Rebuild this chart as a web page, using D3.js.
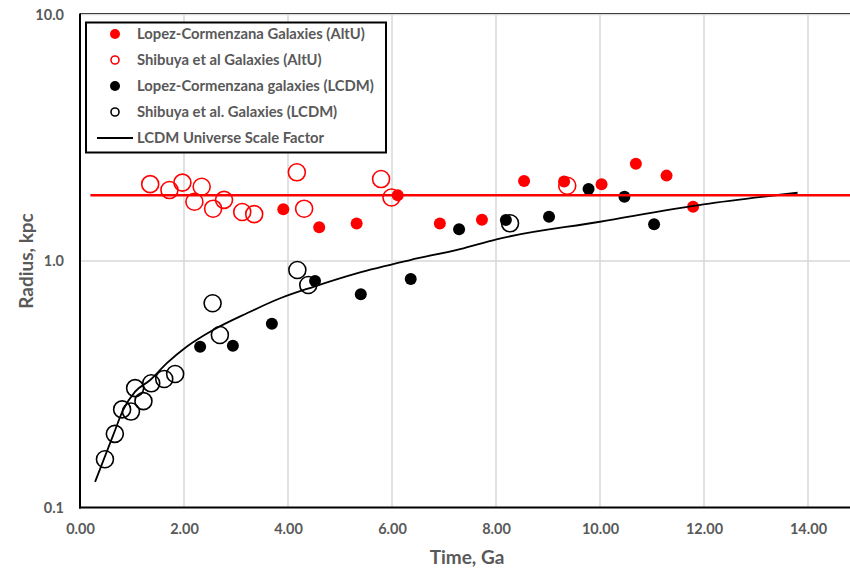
<!DOCTYPE html>
<html><head><meta charset="utf-8">
<script src="https://cdn.jsdelivr.net/npm/d3@7"></script>
<style>
html,body{margin:0;padding:0;background:#fff;}
svg{display:block;font-family:Lato,"Open Sans",sans-serif;font-weight:bold;}
</style></head>
<body><svg id="chart" width="850" height="569"></svg>
<script>
// ---- data ----
const xTicks = [0, 2, 4, 6, 8, 10, 12, 14];
const yTicks = [0.1, 1, 10];

const lopezAltT = [3.91, 4.60, 5.32, 6.11, 6.92, 7.73, 8.54, 9.31, 10.03, 10.69, 11.28, 11.79];
const lopezAltR = [1.62, 1.37, 1.42, 1.85, 1.42, 1.47, 2.11, 2.10, 2.05, 2.48, 2.22, 1.66];

const shibAltT = [1.35, 1.72, 1.97, 2.34, 2.20, 2.56, 2.77, 3.12, 3.35, 4.17, 4.31, 5.79, 5.99, 9.37];
const shibAltR = [2.05, 1.94, 2.08, 2.00, 1.74, 1.63, 1.77, 1.58, 1.55, 2.29, 1.63, 2.15, 1.81, 2.02];

const lopezLcdmT = [2.31, 2.94, 3.69, 4.52, 5.40, 6.36, 7.29, 8.19, 9.02, 9.78, 10.47, 11.04];
const lopezLcdmR = [0.449, 0.453, 0.557, 0.829, 0.733, 0.845, 1.345, 1.467, 1.512, 1.959, 1.823, 1.409];

const shibLcdmT = [0.48, 0.67, 0.81, 0.98, 1.06, 1.22, 1.37, 1.62, 1.83, 2.55, 2.69, 4.18, 4.39, 8.27];
const shibLcdmR = [0.157, 0.199, 0.250, 0.245, 0.305, 0.270, 0.319, 0.332, 0.348, 0.674, 0.501, 0.919, 0.799, 1.422];

const scaleT = [0.29, 0.64, 0.83, 1.06, 1.35, 1.67, 2.05, 2.56, 3.21, 3.85, 4.49, 5.32, 6.35, 7.31, 8.01, 10.0, 11.99, 13.8];
const scaleR = [0.127, 0.197, 0.249, 0.295, 0.329, 0.385, 0.449, 0.525, 0.614, 0.706, 0.786, 0.891, 1.009, 1.118, 1.225, 1.443, 1.698, 1.892];

const altLineT = [0.2, 16];
const altLineR = [1.85, 1.85];

const legendLabels = [
  "Lopez-Cormenzana Galaxies (AltU)",
  "Shibuya et al Galaxies (AltU)",
  "Lopez-Cormenzana galaxies (LCDM)",
  "Shibuya et al. Galaxies (LCDM)",
  "LCDM Universe Scale Factor"
];

// ---- layout ----
const svg = d3.select("#chart");
const L = 80, R = 912, T = 14.5, B = 507.5;
const x = d3.scaleLinear().domain([0, 16]).range([L, R]);
const y = d3.scaleLog().domain([0.1, 10]).range([B, T]);
const grey = "#595959";

svg.append("defs").append("clipPath").attr("id","clip")
  .append("rect").attr("x", L).attr("y", 0).attr("width", 850 - L).attr("height", B + 2);

// gridlines
const grid = svg.append("g");
grid.selectAll("line.v").data(xTicks.filter(d => d > 0)).join("line")
  .attr("x1", d => x(d)).attr("x2", d => x(d)).attr("y1", T).attr("y2", B)
  .attr("stroke", "#d9d9d9").attr("stroke-width", 1.5);
grid.selectAll("line.h").data(yTicks.filter(d => d > 0.1)).join("line")
  .attr("x1", L).attr("x2", 850).attr("y1", d => y(d)).attr("y2", d => y(d))
  .attr("stroke", "#d9d9d9").attr("stroke-width", 1.5);
// top border
svg.append("line").attr("x1", L).attr("x2", 850).attr("y1", T - 1).attr("y2", T - 1)
  .attr("stroke", "#404040").attr("stroke-width", 1);

// axes
const xAxis = d3.axisBottom(x).tickValues(xTicks).tickFormat(d3.format(".2f")).tickSize(0).tickPadding(16);
const gx = svg.append("g").attr("transform", `translate(0,${B})`).call(xAxis);
gx.select(".domain").remove();
gx.selectAll("text").attr("fill", grey).style("font-size", "14.5px").style("font-family", "Lato").style("font-weight", "bold");

const yAxis = d3.axisLeft(y).tickValues(yTicks).tickFormat(d3.format(".1f")).tickSize(0).tickPadding(16);
const gy = svg.append("g").attr("transform", `translate(${L},0)`).call(yAxis);
gy.select(".domain").remove();
gy.selectAll("text").attr("fill", grey).style("font-size", "14.5px").style("font-family", "Lato").style("font-weight", "bold");

svg.append("line").attr("x1", L).attr("x2", L).attr("y1", T - 1).attr("y2", B + 1)
  .attr("stroke", "#000").attr("stroke-width", 2);
svg.append("line").attr("x1", L - 1).attr("x2", 850).attr("y1", B).attr("y2", B)
  .attr("stroke", "#000").attr("stroke-width", 2);

// axis titles
svg.append("text").attr("x", 467).attr("y", 564).attr("text-anchor", "middle")
  .attr("fill", grey).style("font-size", "19px").text("Time, Ga");
svg.append("text").attr("transform", `translate(33,${y(1)}) rotate(-90)`).attr("text-anchor", "middle")
  .attr("fill", grey).style("font-size", "19px").text("Radius, kpc");

// plot
const plot = svg.append("g").attr("clip-path", "url(#clip)");
const pts = (ts, rs) => ts.map((t, i) => [t, rs[i]]);

plot.selectAll("circle.lopAlt").data(pts(lopezAltT, lopezAltR)).join("circle")
  .attr("cx", d => x(d[0])).attr("cy", d => y(d[1])).attr("r", 6).attr("fill", "#ff0000");
plot.selectAll("circle.shibAlt").data(pts(shibAltT, shibAltR)).join("circle")
  .attr("cx", d => x(d[0])).attr("cy", d => y(d[1])).attr("r", 8.5)
  .attr("fill", "none").attr("stroke", "#ff0000").attr("stroke-width", 1.6);
plot.selectAll("circle.lopL").data(pts(lopezLcdmT, lopezLcdmR)).join("circle")
  .attr("cx", d => x(d[0])).attr("cy", d => y(d[1])).attr("r", 6).attr("fill", "#000");
plot.selectAll("circle.shibL").data(pts(shibLcdmT, shibLcdmR)).join("circle")
  .attr("cx", d => x(d[0])).attr("cy", d => y(d[1])).attr("r", 8.5)
  .attr("fill", "none").attr("stroke", "#000").attr("stroke-width", 1.6);

const line = d3.line().x(d => x(d[0])).y(d => y(d[1])).curve(d3.curveMonotoneX);
plot.append("path").datum(pts(scaleT, scaleR)).attr("d", line)
  .attr("fill", "none").attr("stroke", "#000").attr("stroke-width", 1.8);
plot.append("path").datum(pts(altLineT, altLineR)).attr("d", d3.line().x(d => x(d[0])).y(d => y(d[1])))
  .attr("fill", "none").attr("stroke", "#ff0000").attr("stroke-width", 2.5);

// legend
const lg = svg.append("g");
lg.append("rect").attr("x", 86).attr("y", 22.5).attr("width", 300).attr("height", 130)
  .attr("fill", "#fff").attr("stroke", "#000").attr("stroke-width", 2);
legendLabels.forEach((lab, i) => {
  const cy = 34 + i * 26;
  if (i === 0) lg.append("circle").attr("cx", 115).attr("cy", cy).attr("r", 5).attr("fill", "#ff0000");
  if (i === 1) lg.append("circle").attr("cx", 115).attr("cy", cy).attr("r", 4).attr("fill", "none").attr("stroke", "#ff0000").attr("stroke-width", 1.6);
  if (i === 2) lg.append("circle").attr("cx", 115).attr("cy", cy).attr("r", 5).attr("fill", "#000");
  if (i === 3) lg.append("circle").attr("cx", 115).attr("cy", cy).attr("r", 4).attr("fill", "none").attr("stroke", "#000").attr("stroke-width", 1.6);
  if (i === 4) lg.append("line").attr("x1", 97).attr("x2", 133).attr("y1", cy).attr("y2", cy).attr("stroke", "#000").attr("stroke-width", 1.8);
  lg.append("text").attr("x", 137).attr("y", cy).attr("dy", "0.35em")
    .attr("fill", grey).style("font-size", "14.8px").text(lab);
});
</script>
</body></html>
